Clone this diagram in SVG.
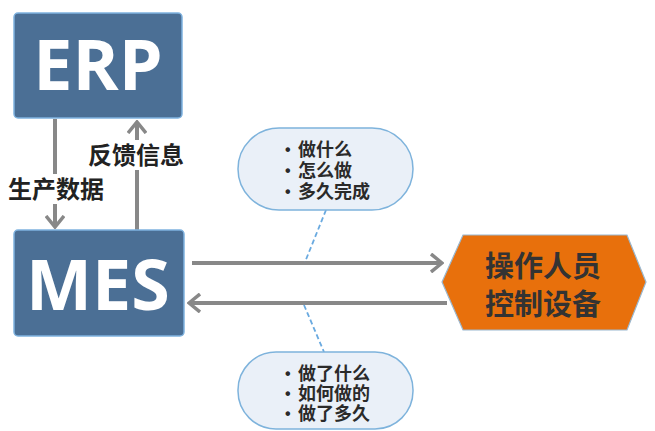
<svg xmlns="http://www.w3.org/2000/svg" width="655" height="431" viewBox="0 0 655 431">
<style>
.box{fill:#4b6f95;stroke:#7fb3e0;stroke-width:1.5}
.big{font-family:"Open Sans","Liberation Sans",sans-serif;font-weight:bold;font-size:70px;fill:#fff;text-anchor:middle}
.lbl{font-family:"Noto Sans CJK SC",sans-serif;font-weight:bold;font-size:24px;fill:#222}
.pill{fill:#eaf0f8;stroke:#7eb3dc;stroke-width:1.5}
.pt{font-family:"Noto Sans CJK SC",sans-serif;font-weight:bold;font-size:18px;fill:#2a2a2a}
.bul{font-family:"Liberation Sans",sans-serif;font-weight:bold;font-size:16px;fill:#2a2a2a}
.arr{stroke:#888;stroke-width:4;fill:none}
.dash{stroke:#6aaae0;stroke-width:1.8;stroke-dasharray:5 3;fill:none}
.hex{fill:#e8700c;stroke:#9ab8d0;stroke-width:1.2}
.ht{font-family:"Noto Sans CJK SC",sans-serif;font-weight:bold;font-size:29px;fill:#333;text-anchor:middle}
</style>
<defs>
<marker id="ah" viewBox="0 0 14 20" refX="12" refY="10" markerWidth="14" markerHeight="20" markerUnits="userSpaceOnUse" orient="auto">
<path d="M1,1 L12,10 L1,19" fill="none" stroke="#888" stroke-width="3.5"/>
</marker>
</defs>
<rect width="655" height="431" fill="#fff"/>
<g id="connectors">
<line class="arr" x1="55" y1="119" x2="55" y2="227" marker-end="url(#ah)"/>
<line class="arr" x1="137" y1="230" x2="137" y2="122" marker-end="url(#ah)"/>
<line class="arr" x1="192" y1="263" x2="442" y2="263" marker-end="url(#ah)"/>
<line class="arr" x1="447" y1="303" x2="189" y2="303" marker-end="url(#ah)"/>
<line class="dash" x1="326" y1="210" x2="305" y2="262"/>
<line class="dash" x1="304" y1="305" x2="324" y2="352"/>
</g>
<g id="label-shengchan">
<rect x="6" y="174" width="104" height="30" fill="#fff"/>
<text class="lbl" x="8" y="198">生产数据</text>
</g>
<g id="label-fankui">
<rect x="86" y="140" width="104" height="30" fill="#fff"/>
<text class="lbl" x="88" y="164">反馈信息</text>
</g>
<g id="erp">
<rect class="box" x="14" y="13" width="168" height="105" rx="4"/>
<text class="big" x="98" y="90">ERP</text>
</g>
<g id="mes">
<rect class="box" x="14" y="230" width="170" height="106" rx="4"/>
<text class="big" x="98" y="310">MES</text>
</g>
<g id="top-note">
<rect class="pill" x="238" y="128" width="175" height="82" rx="41"/>
<text class="bul" x="285" y="155">•</text>
<text class="bul" x="285" y="176">•</text>
<text class="bul" x="285" y="197">•</text>
<text class="pt" x="298" y="156">做什么</text>
<text class="pt" x="298" y="177">怎么做</text>
<text class="pt" x="298" y="198">多久完成</text>
</g>
<g id="bottom-note">
<rect class="pill" x="238" y="352" width="175" height="77" rx="38"/>
<text class="bul" x="285" y="379">•</text>
<text class="bul" x="285" y="399">•</text>
<text class="bul" x="285" y="419">•</text>
<text class="pt" x="298" y="380">做了什么</text>
<text class="pt" x="298" y="400">如何做的</text>
<text class="pt" x="298" y="420">做了多久</text>
</g>
<g id="operator">
<polygon class="hex" points="442,282 463,235 627,235 646,282 627,330 463,330"/>
<text class="ht" x="543" y="277">操作人员</text>
<text class="ht" x="543" y="315">控制设备</text>
</g>
</svg>
